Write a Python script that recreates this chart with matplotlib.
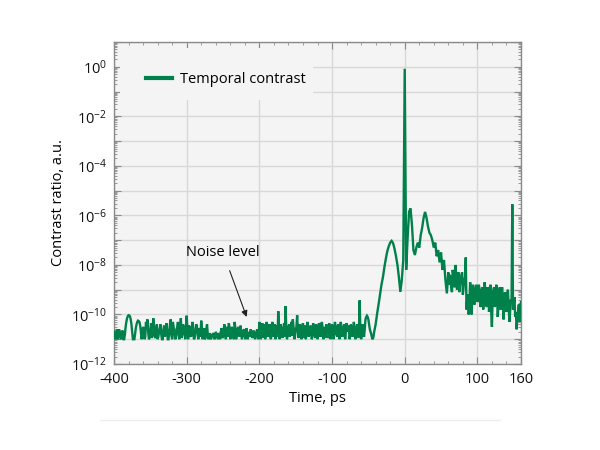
import numpy as np
import matplotlib
matplotlib.use("Agg")
import matplotlib.pyplot as plt
from matplotlib.ticker import FixedLocator, MultipleLocator, LogLocator, FuncFormatter, NullFormatter
from matplotlib.patches import Rectangle
from matplotlib.lines import Line2D

plt.rcParams['font.family'] = ['Open Sans', 'DejaVu Sans']
plt.rcParams['mathtext.fontset'] = 'custom'
plt.rcParams['mathtext.rm'] = 'Open Sans'
plt.rcParams['mathtext.it'] = 'Open Sans'
plt.rcParams['axes.unicode_minus'] = False

# ---- data: log10 of contrast ratio ----
# even-picosecond samples, -400 ... 160 ps
time_even = np.arange(-400, 161, 2)
log_start = [-10.7, -11.0, -10.6, -10.95, -10.75, -11.0, -10.65, -11.0]
log_arch1 = [-10.5, -10.15, -10.03, -10.08, -10.4, -11.0]
log_arch2 = [-11.0, -10.55, -10.3, -10.27, -10.45, -11.0]
log_noise1 = [-10.5, -11.0, -10.3, -10.2, -11.0, -10.6, -10.95, -10.15, -10.9, -10.55,
              -11.0, -10.7, -10.4, -11.0, -10.6, -10.9, -10.35, -11.0, -10.7, -10.2,
              -11.0, -10.5, -10.95, -10.6, -10.3, -11.0, -10.15, -10.8, -10.5, -11.0]
log_noise2 = [-10.05, -11.0, -10.5, -10.9, -10.3, -11.0, -10.6, -10.45, -11.0, -10.7,
              -10.25, -11.0, -10.55, -10.95, -10.4, -11.0, -10.75, -10.95, -10.8, -11.0,
              -10.7, -10.9, -10.75, -11.0, -10.55, -10.9, -10.4, -11.0, -10.6, -10.35,
              -11.0, -10.5, -10.9, -10.3, -11.0, -10.6, -10.8, -10.45, -11.0, -10.65,
              -10.9, -10.55, -11.0, -10.7, -10.6, -10.95, -10.65, -11.0, -10.7, -10.9]
log_noise3 = [-10.3, -11.0, -10.35, -10.6, -11.0, -10.3, -10.9, -10.4, -11.0, -10.3,
              -10.7, -11.0, -10.45, -9.87, -11.0, -10.5, -10.95, -10.35, -9.67, -11.0,
              -10.5, -10.9, -10.3, -10.2, -11.0, -10.6, -10.03, -10.95, -10.4, -11.0,
              -10.35, -10.7, -11.0, -10.3, -10.9, -10.45, -11.0, -10.35, -10.8, -10.4,
              -11.0, -10.35, -10.9, -10.3, -11.0, -10.5, -10.4, -10.95, -10.35, -11.0]
log_noise4 = [-10.4, -11.0, -10.3, -10.8, -10.45, -11.0, -10.3, -10.9, -10.5, -11.0,
              -10.35, -10.7, -11.0, -10.4, -10.9, -10.3, -11.0, -10.5, -10.95, -9.43,
              -11.0, -10.4, -10.9, -10.2, -10.05, -10.2, -10.6, -10.8, -11.0, -10.7]
log_rise = [-10.4, -9.97, -9.6, -9.2, -8.8, -8.5, -8.1, -7.75, -7.45, -7.25,
            -7.1, -7.03, -7.12, -7.35, -7.65, -8.0, -8.5, -9.09, -8.6, -7.8]
log_main = [-0.08, -8.2, -6.9, -5.85, -5.72, -6.4, -7.4, -7.6, -7.3, -7.1,
            -7.3, -6.8, -6.5, -6.1, -5.86, -6.1, -6.45, -6.7, -6.8, -7.0,
            -7.3, -7.1, -7.65, -7.4, -7.9, -7.5, -8.2, -7.8, -8.6, -9.15, -8.3]
log_tail1 = [-8.4, -8.9, -8.2, -8.85, -8.0, -9.0, -8.3, -8.8, -8.4, -9.2,
             -8.6, -7.7, -9.4, -10.0, -8.7, -10.0, -8.8, -9.6, -8.9, -9.5]
log_tail2 = [-8.8, -9.7, -9.0, -9.8, -8.7, -9.6, -8.9, -9.9, -8.8, -10.5,
             -9.0, -9.7, -8.8, -10.1, -9.0, -9.8, -8.9, -10.2, -9.1, -9.9,
             -9.0, -10.3, -9.4, -5.55, -9.6, -10.1, -10.6, -9.9, -10.3, -9.5]

# odd-picosecond samples in the noise floor (-399 ... -41 ps) and the tail (61 ... 159 ps)
time_odd = np.concatenate([np.arange(-399, -40, 2), np.arange(61, 160, 2)])
odd_start = [-10.9, -10.8, -11.0, -10.6, -10.9, -10.7, -11.0]
odd_arch1 = [-10.8, -10.3, -10.07, -10.04, -10.2, -10.7]
odd_arch2 = [-11.0, -10.8, -10.4, -10.25, -10.3, -10.7]
odd_noise1 = [-10.8, -10.6, -10.9, -10.45, -10.7, -10.95, -10.35, -10.8, -10.5, -10.95,
              -10.4, -10.9, -10.55, -10.8, -11.0, -10.45, -10.8, -10.6, -11.0, -10.4,
              -10.85, -10.3, -10.7, -11.0, -10.5, -10.85, -10.6, -10.95, -10.4, -10.75,
              -10.5]
odd_noise2 = [-10.6, -10.45, -10.85, -10.55, -10.75, -10.95, -10.4, -10.8, -10.55, -10.9,
              -10.6, -10.8, -11.0, -10.6, -10.8, -10.9, -11.0, -10.85, -10.75, -10.95,
              -10.8, -11.0, -10.85, -10.7, -10.95, -10.6, -10.85, -10.5, -10.9, -10.55,
              -10.8, -10.6, -11.0, -10.55, -10.85, -10.5, -10.9, -10.7, -10.85, -10.6,
              -11.0, -10.75, -10.85, -10.9, -10.7, -10.85, -10.75, -10.9, -10.6, -11.0]
odd_noise3 = [-10.5, -10.6, -10.95, -10.4, -10.7, -10.5, -10.65, -10.9, -10.45, -10.9,
              -10.4, -10.75, -10.9, -10.6, -10.4, -10.75, -10.6, -10.9, -10.5, -10.8,
              -10.4, -10.75, -10.85, -10.5, -10.9, -10.5, -10.7, -10.5, -10.8, -10.6,
              -10.95, -10.45, -10.7, -10.55, -10.75, -10.5, -10.9, -10.6, -10.95, -10.5,
              -10.8, -10.45, -10.7, -10.55, -10.85, -10.95, -10.6, -10.85, -10.6, -10.8]
odd_noise4 = [-10.6, -10.75, -10.55, -10.9, -10.4, -10.65, -10.5, -10.8, -10.4, -10.7,
              -10.55, -10.45, -10.85, -10.6, -10.75, -10.5, -10.8, -10.4, -10.7, -10.6,
              -10.8, -10.55, -10.6, -10.1, -10.1, -10.4, -10.7, -10.95, -10.9, -10.55]
odd_tail1 = [-8.8, -8.5, -9.1, -8.4, -8.9, -8.6, -8.5, -9.1, -8.6, -8.3,
             -8.9, -8.5, -9.8, -9.2, -9.6, -9.0, -9.3, -9.0, -9.4, -8.8]
odd_tail2 = [-9.3, -9.0, -9.6, -8.9, -9.4, -9.1, -9.7, -9.0, -9.4, -9.9,
             -9.3, -8.9, -9.5, -9.2, -9.6, -8.9, -9.4, -9.6, -9.3, -9.7,
             -9.2, -9.6, -9.9, -9.5, -9.8, -9.3, -9.9, -10.2, -9.6, -9.8]

log_even = np.concatenate([log_start, log_arch1, log_arch2, log_noise1, log_noise2,
                           log_noise3, log_noise4, log_rise, log_main, log_tail1, log_tail2])
log_odd = np.concatenate([odd_start, odd_arch1, odd_arch2, odd_noise1, odd_noise2,
                          odd_noise3, odd_noise4, odd_tail1, odd_tail2])

time_ps = np.concatenate([time_even, time_odd])
log_all = np.concatenate([log_even, log_odd])
order = np.argsort(time_ps)
time_ps = time_ps[order]
contrast = 10.0 ** log_all[order]

x_ticks = [-400, -300, -200, -100, 0, 100, 160]
series_label = "Temporal contrast"
note_text = "Noise level"

green = '#00804a'
gray_spine = '#8a8a8a'

fig = plt.figure(figsize=(6, 4.5), dpi=100)
ax = fig.add_axes([114/600, 1 - 364/450, 407/600, 322/450])
ax.set_facecolor('#f4f4f4')

ax.plot(time_ps, contrast, color=green, lw=1.7, zorder=3, label=series_label,
        solid_joinstyle='miter')
ax.set_yscale('log')
ax.set_xlim(-400, 160)
ax.set_ylim(1e-12, 1e1)

ax.xaxis.set_major_locator(FixedLocator(x_ticks))
ax.xaxis.set_minor_locator(MultipleLocator(20))
ax.yaxis.set_major_locator(LogLocator(base=10, numticks=30))
ax.yaxis.set_minor_locator(LogLocator(base=10, subs=np.arange(2, 10), numticks=30))
ax.yaxis.set_minor_formatter(NullFormatter())

def yfmt(v, pos):
    e = int(round(np.log10(v)))
    if e % 2 == 0:
        return r'$\mathregular{10^{%d}}$' % e
    return ''
ax.yaxis.set_major_formatter(FuncFormatter(yfmt))

ax.set_axisbelow(True)
ax.grid(True, which='major', color='#d8d8d8', lw=1.0)

for s in ax.spines.values():
    s.set_color(gray_spine)
    s.set_linewidth(1.0)
ax.tick_params(which='both', direction='in', top=True, right=True, color=gray_spine,
               labelsize=10.5, labelcolor='#111111')
ax.tick_params(which='major', length=5, width=0.8)
ax.tick_params(which='minor', length=2.5, width=0.6)
ax.tick_params(axis='x', pad=6)
ax.tick_params(axis='y', pad=5)

ax.set_xlabel('Time, ps', fontsize=10.5, labelpad=3)
ax.set_ylabel('Contrast ratio, a.u.', fontsize=10.5, labelpad=4)

# legend backing box hiding grid
ax.add_patch(Rectangle((0.015, 0.82), 0.474, 0.16, transform=ax.transAxes,
                       facecolor='#f4f4f4', edgecolor='none', zorder=1))
leg = ax.legend(loc='center left', bbox_to_anchor=(0.078, 0.882), frameon=False,
                borderpad=0, borderaxespad=0, handlelength=1.8, handletextpad=0.55,
                fontsize=10.5)
for h in leg.get_lines():
    h.set_linewidth(3)

ax.annotate(note_text, xy=(-217.5, 10**-10.1), xytext=(-250, 10**-7.5),
            ha='center', va='center', fontsize=10.5,
            arrowprops=dict(arrowstyle='-|>', color='#222222', lw=0.8,
                            mutation_scale=9, shrinkA=6, shrinkB=0))

fig.add_artist(Line2D([100/600, 500/600], [1 - 420/450, 1 - 420/450],
                      transform=fig.transFigure, color='#efefef', lw=1))

fig.savefig('out.png', dpi=100)
